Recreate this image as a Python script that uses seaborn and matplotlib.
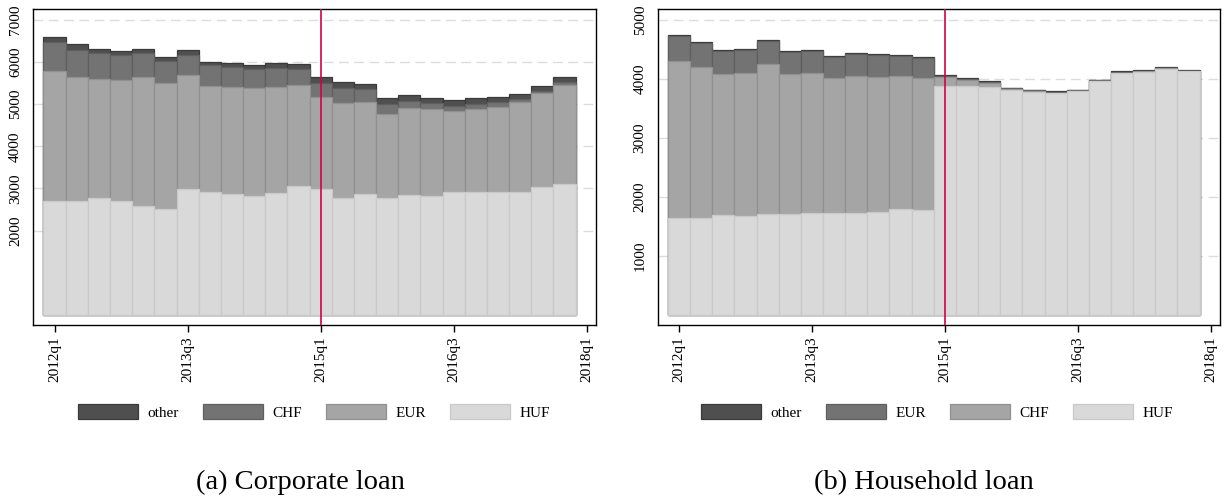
import numpy as np
import pandas as pd
import matplotlib
matplotlib.use("Agg")
import matplotlib.pyplot as plt
import seaborn as sns
from matplotlib.patches import Patch

# ---------------- data ----------------
quarters = ["2012q1", "2012q2", "2012q3", "2012q4",
            "2013q1", "2013q2", "2013q3", "2013q4",
            "2014q1", "2014q2", "2014q3", "2014q4",
            "2015q1", "2015q2", "2015q3", "2015q4",
            "2016q1", "2016q2", "2016q3", "2016q4",
            "2017q1", "2017q2", "2017q3", "2017q4"]
tick_labels = ["2012q1", "2013q3", "2015q1", "2016q3", "2018q1"]
event_quarter = "2015q1"

# Corporate loans (stack bottom -> top: HUF, EUR, CHF, other)
corp_huf = [2706, 2706, 2769, 2698, 2587, 2516, 2983, 2911, 2864, 2816, 2888, 3054,
            2983, 2777, 2864, 2777, 2848, 2816, 2919, 2911, 2927, 2927, 3030, 3117]
corp_eur = [3077, 2935, 2824, 2872, 3046, 2975, 2697, 2524, 2539, 2556, 2515, 2397,
            2175, 2247, 2183, 1979, 2065, 2066, 1923, 1971, 2010, 2129, 2224, 2342]
corp_chf = [696, 649, 610, 585, 585, 530, 491, 483, 483, 459, 459, 380,
            352, 364, 317, 244, 166, 135, 118, 118, 103, 63, 55, 63]
corp_other = [119, 134, 102, 103, 95, 95, 103, 79, 79, 103, 111, 118,
              123, 134, 119, 136, 135, 119, 135, 136, 127, 119, 118, 111]

# Household loans (stack bottom -> top: HUF, CHF, EUR, other)
hh_huf = [1637, 1643, 1694, 1671, 1711, 1705, 1733, 1733, 1733, 1750, 1795, 1778,
          3877, 3872, 3855, 3815, 3781, 3754, 3793, 3958, 4098, 4121, 4173, 4126]
hh_chf = [2663, 2556, 2392, 2426, 2533, 2370, 2359, 2274, 2314, 2280, 2246, 2229,
          153, 107, 68, 5, 5, 5, 3, 3, 4, 3, 3, 3]
hh_eur = [424, 403, 386, 386, 397, 380, 374, 369, 368, 368, 352, 352,
          23, 24, 23, 21, 21, 20, 13, 12, 17, 12, 12, 8]
hh_other = [15, 15, 15, 15, 15, 15, 15, 15, 15, 15, 15, 15,
            10, 10, 10, 8, 8, 8, 7, 7, 8, 8, 7, 7]

# ---------------- style ----------------
sns.set_theme(style="white")
plt.rcParams['font.family'] = ['Liberation Serif', 'DejaVu Serif']
plt.rcParams['text.color'] = 'black'
plt.rcParams['xtick.color'] = 'black'
plt.rcParams['ytick.color'] = 'black'
plt.rcParams['xtick.labelcolor'] = 'black'
plt.rcParams['ytick.labelcolor'] = 'black'
plt.rcParams['legend.labelcolor'] = 'black'

fill = {"other": "#4f4f4f", "CHF": "#737373", "EUR": "#a5a5a5", "HUF": "#d9d9d9"}
edge = {"other": "#3a3a3a", "CHF": "#5f5f5f", "EUR": "#909090", "HUF": "#c9c9c9"}
fill_hh = {"other": "#4f4f4f", "EUR": "#737373", "CHF": "#a5a5a5", "HUF": "#d9d9d9"}
edge_hh = {"other": "#3a3a3a", "EUR": "#5f5f5f", "CHF": "#909090", "HUF": "#c9c9c9"}
red = "#d4004a"

W, H = 1225, 496
fig = plt.figure(figsize=(W / 100, H / 100), dpi=100)


def px_axes(x0, y0, x1, y1):
    return fig.add_axes([x0 / W, 1 - y1 / H, (x1 - x0) / W, (y1 - y0) / H])


ax1 = px_axes(33.3, 9.3, 596, 325)
ax2 = px_axes(657.7, 9.3, 1220, 325)


def stacked(ax, layers, fills, edges, ylim, yticks):
    # layers: list of (name, values) bottom -> top
    cum = np.zeros(len(quarters))
    cums = []
    for name, vals in layers:
        cum = cum + np.asarray(vals, dtype=float)
        cums.append((name, cum.copy()))
    df = pd.DataFrame({"quarter": quarters})
    for name, c in reversed(cums):
        df["v"] = c
        sns.barplot(data=df, x="quarter", y="v", order=quarters, color=fills[name],
                    saturation=1, width=1.0, edgecolor=edges[name], linewidth=0.9,
                    errorbar=None, ax=ax, zorder=2)
    ax.set_ylim(*ylim)
    ax.set_yticks(yticks)
    ax.set_yticklabels([str(t) for t in yticks])
    tpos = [quarters.index(t) if t in quarters else len(quarters) for t in tick_labels]
    ax.set_xticks(tpos)
    ax.set_xticklabels(tick_labels)
    ax.set_xlim(-0.96, 24.42)
    ax.set_xlabel("")
    ax.set_ylabel("")
    ax.yaxis.grid(True, linestyle=(0, (7, 4)), color="#dcdcdc", linewidth=1.0)
    ax.xaxis.grid(False)
    ax.set_axisbelow(True)
    epos = quarters.index(event_quarter)
    ax.axvline(epos, color=red, linewidth=1.2, zorder=5)
    ax.tick_params(axis="x", direction="out", length=5, width=1, color="black",
                   labelrotation=90, pad=3, labelsize=11, bottom=True, labelcolor="black")
    ax.tick_params(axis="y", length=0, pad=8, labelrotation=90, labelsize=11, left=True,
                   labelcolor="black")
    for lab in ax.get_yticklabels():
        lab.set_va("center")
    ax.xaxis.get_major_ticks()[tpos.index(epos)].tick1line.set_color(red)
    for s in ax.spines.values():
        s.set_color("black")
        s.set_linewidth(1.0)
        s.set_visible(True)


stacked(ax1, [("HUF", corp_huf), ("EUR", corp_eur), ("CHF", corp_chf), ("other", corp_other)],
        fill, edge, (-240, 7250), [2000, 3000, 4000, 5000, 6000, 7000])
stacked(ax2, [("HUF", hh_huf), ("CHF", hh_chf), ("EUR", hh_eur), ("other", hh_other)],
        fill_hh, edge_hh, (-170, 5176), [1000, 2000, 3000, 4000, 5000])


def legend(order, fills, edges, cx):
    handles = [Patch(facecolor=fills[n], edgecolor=edges[n], linewidth=0.9, label=n) for n in order]
    fig.legend(handles=handles, loc="center", bbox_to_anchor=(cx / W, 1 - 412 / H),
               ncol=4, frameon=False, fontsize=11, handlelength=3.93, handleheight=1.05,
               handletextpad=0.6, columnspacing=1.6, borderaxespad=0, borderpad=0,
               labelcolor="black")


legend(["other", "CHF", "EUR", "HUF"], fill, edge, 314)
legend(["other", "EUR", "CHF", "HUF"], fill_hh, edge_hh, 937)

fig.text(300 / W, 1 - 489 / H, "(a) Corporate loan", ha="center", va="baseline",
         fontsize=20.5, color="black")
fig.text(924 / W, 1 - 489 / H, "(b) Household loan", ha="center", va="baseline",
         fontsize=20.5, color="black")

fig.savefig("out.png", dpi=100)
